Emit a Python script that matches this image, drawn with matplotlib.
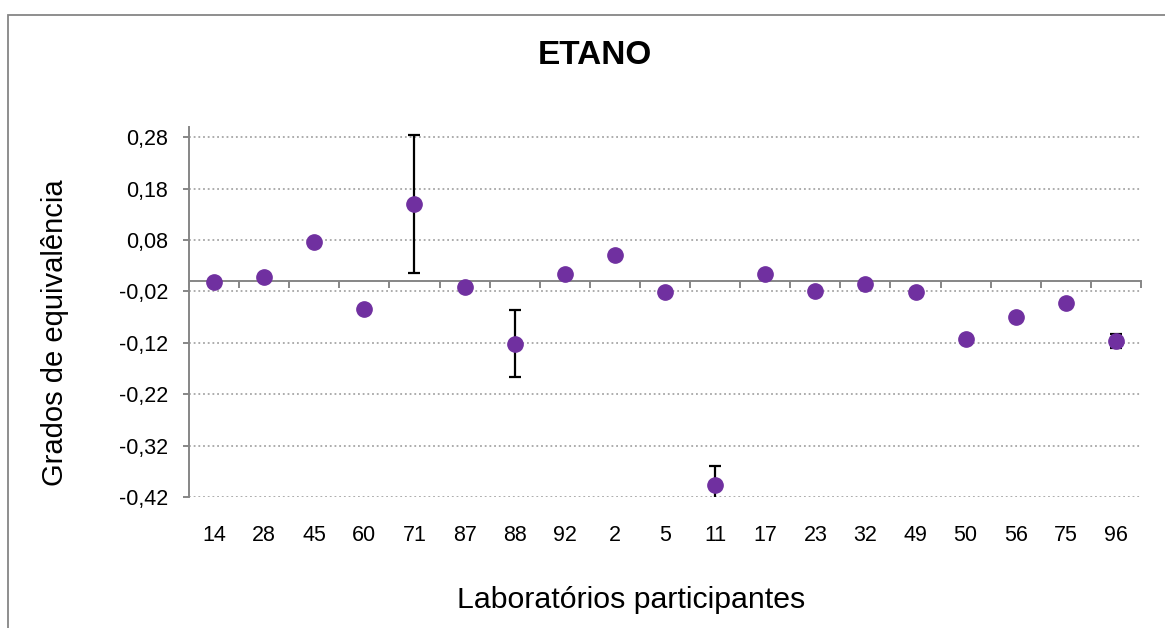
import matplotlib.pyplot as plt
import matplotlib.patches as patches
import numpy as np

####################################################
# Data
####################################################
labs = ['14', '28', '45', '60', '71', '87', '88', '92', '2', '5',
        '11', '17', '23', '32', '49', '50', '56', '75', '96']
degrees = [-0.001, 0.008, 0.076, -0.055, 0.150, -0.011, -0.122, 0.013, 0.050, -0.021,
           -0.397, 0.013, -0.019, -0.005, -0.021, -0.112, -0.069, -0.043, -0.116]
uncert = [0.003, 0.003, 0.003, 0.001, 0.134, 0.003, 0.065, 0.002, 0.001, 0.002,
          0.037, 0.002, 0.001, 0.003, 0.002, 0.003, 0.001, 0.003, 0.014]
yticks = [-0.42, -0.32, -0.22, -0.12, -0.02, 0.08, 0.18, 0.28]
ytick_labels = ['-0,42', '-0,32', '-0,22', '-0,12', '-0,02', '0,08', '0,18', '0,28']

####################################################
# Plot
####################################################
plt.rcParams['font.family'] = ['Liberation Sans', 'DejaVu Sans']
axis_gray = '#868686'
purple = '#7030A0'

fig = plt.figure(figsize=(11.65, 6.28), dpi=100)
ax = fig.add_axes([189 / 1165, 1 - 497 / 628, (1141 - 189) / 1165, 370 / 628])

x = np.arange(len(labs))
ax.errorbar(x, degrees, yerr=uncert, fmt='none', ecolor='black',
            elinewidth=1.6, capsize=4.5, capthick=1.6, zorder=2)
ax.plot(x, degrees, linestyle='none', marker='o', markersize=11,
        color=purple, zorder=3)

ax.set_xlim(-0.5, len(labs) - 0.5)
ax.set_ylim(-0.42, 0.30)

# y axis
ax.set_yticks(yticks, ytick_labels)
ax.tick_params(axis='y', direction='out', length=4, width=1.4,
               color=axis_gray, pad=11, labelsize=15.5)
ax.grid(axis='y', color='#A6A6A6', linestyle=(0, (1, 1.6)), linewidth=1.3)
ax.set_axisbelow(True)

# x axis line at zero with category separators
ax.spines['top'].set_visible(False)
ax.spines['right'].set_visible(False)
ax.spines['left'].set_color(axis_gray)
ax.spines['left'].set_linewidth(1.4)
ax.spines['bottom'].set_position(('data', 0))
ax.spines['bottom'].set_color(axis_gray)
ax.spines['bottom'].set_linewidth(1.4)
ax.set_xticks([])
ax.set_xticks(np.arange(len(labs) + 1) - 0.5, minor=True)
ax.tick_params(axis='x', which='minor', direction='out', length=5, width=1.4,
               color=axis_gray)

# category labels under the plot
sec = ax.secondary_xaxis('bottom')
sec.set_xticks(x, labs)
sec.spines['bottom'].set_visible(False)
sec.tick_params(length=0, pad=20, labelsize=15.5)

# texts
fig.text(595 / 1165, 1 - 55 / 628, 'ETANO', ha='center', va='center',
         fontsize=24, fontweight='bold')
fig.text(55 / 1165, 1 - 333 / 628, 'Grados de equivalência', rotation=90,
         ha='center', va='center', fontsize=21)
fig.text(631 / 1165, 1 - 600 / 628, 'Laboratórios participantes',
         ha='center', va='center', fontsize=21.8)

# chart area border
border = patches.Rectangle((7.5 / 1165, -0.1), 1.2, 1.1 - 15 / 628,
                           transform=fig.transFigure, fill=False,
                           edgecolor=axis_gray, linewidth=1.3)
fig.add_artist(border)

plt.savefig('out.png', dpi=100)
